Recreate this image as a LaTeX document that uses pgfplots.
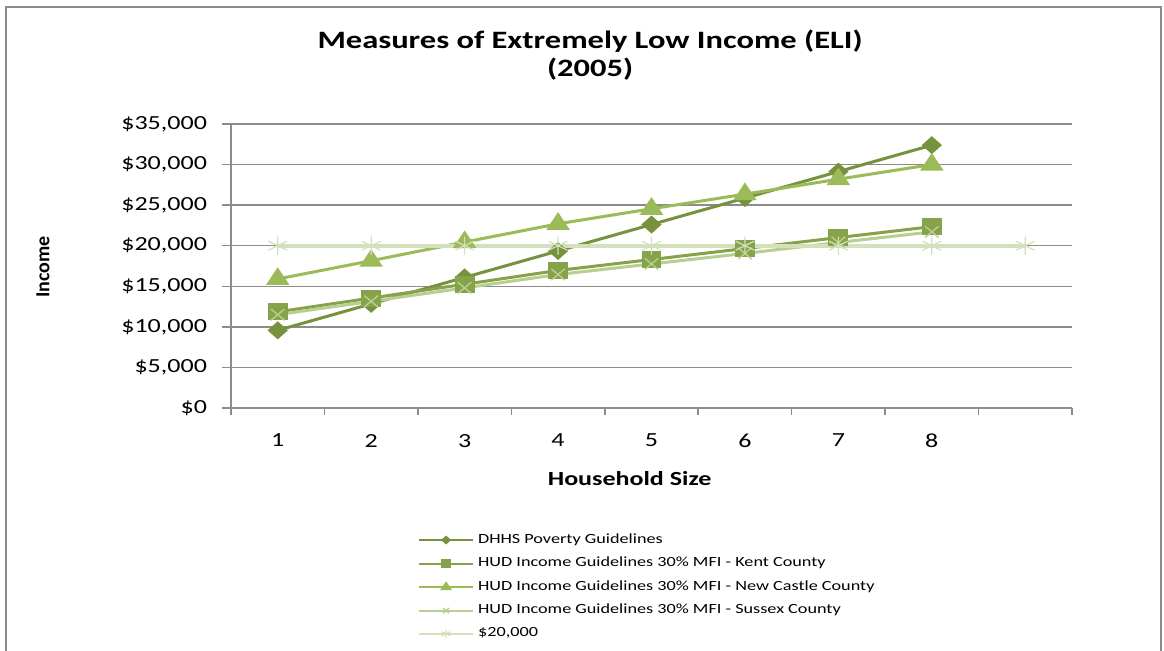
\documentclass[border=0pt]{standalone}
\usepackage{fontspec}
\setmainfont{Carlito}[FakeStretch=1.3]
\newfontfamily\plainfont{Carlito}
\usepackage{pgfplots}
\pgfplotsset{compat=1.18}
\definecolor{cA}{RGB}{118,146,60}
\definecolor{cB}{RGB}{134,162,74}
\definecolor{cC}{RGB}{155,187,89}
\definecolor{cD}{RGB}{185,206,145}
\definecolor{cE}{RGB}{210,224,188}
\definecolor{gridc}{RGB}{140,140,140}
\begin{document}
\begin{tikzpicture}
\useasboundingbox (0,0) rectangle (582pt,325.5pt);
\draw[color=gridc, line width=1pt] (3pt,-5pt) -- (3pt,322pt) -- (580.5pt,322pt) -- (580.5pt,-5pt);
\begin{axis}[
 at={(115.5pt,121.5pt)}, anchor=south west,
 scale only axis, width=420.5pt, height=142pt,
 xmin=0.5, xmax=9.5, ymin=0, ymax=35000,
 axis x line*=bottom, axis y line*=left,
 axis line style={-, gridc, line width=0.75pt},
 xtick pos=bottom, ytick pos=left,
 tick align=outside,
 scaled ticks=false,
 xtick={1,...,8}, xticklabels={1,2,3,4,5,6,7,8},
 major x tick style={draw=none},
 minor xtick={0.5,1.5,...,9.5},
 minor tick length=3.5pt, major tick length=4.5pt,
 minor x tick style={gridc, line width=0.75pt},
 y tick style={gridc, line width=0.75pt},
 ytick={0,5000,...,35000},
 yticklabels={{\$0},{\$5,000},{\$10,000},{\$15,000},{\$20,000},{\$25,000},{\$30,000},{\$35,000}},
 ymajorgrids, grid style={gridc, line width=0.75pt},
 ticklabel style={font=\fontsize{10}{12}\selectfont, black},
 yticklabel style={xshift=-4pt},
 xticklabel style={yshift=-5pt},
 title={Measures of Extremely Low Income (ELI)\\(2005)},
 title style={font=\bfseries\fontsize{12.5}{14}\selectfont, align=center, at={(axis description cs:0.427,1.2)}, anchor=center},
 xlabel={Household Size},
 xlabel style={font=\bfseries\fontsize{10}{12}\selectfont, at={(axis description cs:0.474,-0.248)}, anchor=center},
 ylabel={Income},
 ylabel style={font=\plainfont\bfseries\fontsize{10}{12}\selectfont, at={(axis description cs:-0.2235,0.496)}, anchor=center},
 legend style={at={(axis description cs:0.222,-0.427)}, anchor=north west, draw=none, fill=none, font=\fontsize{7}{8}\selectfont, row sep=1.4pt, inner sep=0pt},
 legend cell align=left,
 legend image code/.code={\draw[mark repeat=2, mark phase=2, #1, line width=1pt, every mark/.append style={scale=0.45}] plot coordinates {(0pt,0pt) (13.5pt,0pt) (27pt,0pt)};},
]
\addplot[cA, line width=1.5pt, mark=diamond*, mark size=3.5pt, mark options={xscale=1.5}]
 coordinates {(1,9570)(2,12830)(3,16090)(4,19350)(5,22610)(6,25870)(7,29130)(8,32390)};
\addlegendentry{DHHS Poverty Guidelines}
\addplot[cB, line width=1.5pt, mark=square*, mark size=3.5pt, mark options={xscale=1.2}]
 coordinates {(1,11850)(2,13550)(3,15250)(4,16950)(5,18300)(6,19650)(7,21000)(8,22350)};
\addlegendentry{HUD Income Guidelines 30\% MFI - Kent County}
\addplot[cC, line width=1.5pt, mark=triangle*, mark size=4.5pt, mark options={xscale=1.15}]
 coordinates {(1,15900)(2,18150)(3,20450)(4,22700)(5,24550)(6,26350)(7,28200)(8,30000)};
\addlegendentry{HUD Income Guidelines 30\% MFI - New Castle County}
\addplot[cD, line width=1.5pt, mark=x, mark size=4pt, mark options={xscale=1.2, line width=0.7pt}]
 coordinates {(1,11500)(2,13150)(3,14800)(4,16450)(5,17750)(6,19050)(7,20400)(8,21700)};
\addlegendentry{HUD Income Guidelines 30\% MFI - Sussex County}
\addplot[cE, line width=2pt, mark=asterisk, mark size=4.5pt, mark options={xscale=1.2, line width=0.6pt}]
 coordinates {(1,20000)(2,20000)(3,20000)(4,20000)(5,20000)(6,20000)(7,20000)(8,20000)(9,20000)};
\addlegendentry{\$20,000}
\end{axis}
\end{tikzpicture}
\end{document}
